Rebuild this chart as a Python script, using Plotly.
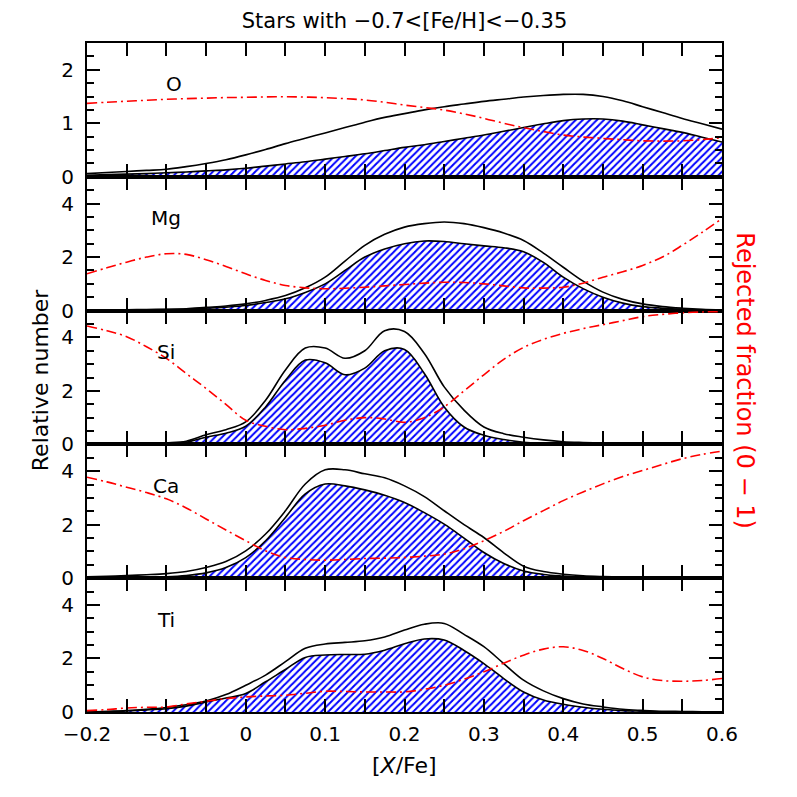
import plotly.graph_objects as go
from plotly.subplots import make_subplots

xfe = [-0.2, -0.175, -0.15, -0.125, -0.1, -0.075, -0.05, -0.025, 0.0, 0.025, 0.05,
       0.075, 0.1, 0.125, 0.15, 0.175, 0.2, 0.225, 0.25, 0.275, 0.3, 0.325, 0.35,
       0.375, 0.4, 0.425, 0.45, 0.475, 0.5, 0.525, 0.55, 0.575, 0.6]

elements = ["O", "Mg", "Si", "Ca", "Ti"]

o_all = [0.06, 0.08, 0.10, 0.12, 0.14, 0.19, 0.25, 0.32, 0.41, 0.51, 0.62, 0.72, 0.82, 0.92,
         1.02, 1.11, 1.18, 1.25, 1.31, 1.36, 1.41, 1.45, 1.49, 1.52, 1.54, 1.54, 1.50, 1.42,
         1.31, 1.20, 1.09, 0.99, 0.89]
o_acc = [0.03, 0.04, 0.05, 0.06, 0.075, 0.09, 0.11, 0.13, 0.16, 0.20, 0.24, 0.28, 0.33, 0.38,
         0.43, 0.49, 0.55, 0.60, 0.66, 0.72, 0.78, 0.85, 0.92, 0.99, 1.05, 1.08, 1.08, 1.04,
         0.97, 0.90, 0.83, 0.74, 0.65]
o_rej = [0.549, 0.557, 0.565, 0.572, 0.579, 0.584, 0.588, 0.592, 0.594, 0.597, 0.598, 0.596,
         0.591, 0.584, 0.574, 0.557, 0.536, 0.518, 0.499, 0.47, 0.437, 0.40, 0.367, 0.338,
         0.312, 0.297, 0.287, 0.277, 0.269, 0.267, 0.269, 0.278, 0.292]

mg_all = [0.02, 0.02, 0.03, 0.04, 0.05, 0.07, 0.12, 0.17, 0.25, 0.38, 0.56, 0.85, 1.25, 1.85,
          2.44, 2.85, 3.12, 3.25, 3.31, 3.25, 3.10, 2.90, 2.62, 2.15, 1.62, 1.10, 0.69, 0.42,
          0.25, 0.15, 0.09, 0.05, 0.03]
mg_acc = [0.01, 0.01, 0.02, 0.03, 0.04, 0.06, 0.09, 0.13, 0.19, 0.30, 0.44, 0.68, 1.00, 1.50,
          2.00, 2.30, 2.50, 2.60, 2.58, 2.50, 2.42, 2.35, 2.20, 1.80, 1.25, 0.82, 0.50, 0.28,
          0.15, 0.09, 0.05, 0.03, 0.02]
mg_rej = [0.275, 0.32, 0.362, 0.40, 0.425, 0.42, 0.38, 0.33, 0.275, 0.225, 0.188, 0.17,
          0.163, 0.167, 0.175, 0.185, 0.195, 0.205, 0.212, 0.21, 0.20, 0.185, 0.17, 0.168,
          0.175, 0.205, 0.25, 0.29, 0.338, 0.40, 0.488, 0.585, 0.688]

si_all = [0.01, 0.01, 0.02, 0.03, 0.06, 0.12, 0.36, 0.55, 0.84, 1.65, 2.78, 3.60, 3.60, 3.22,
          3.50, 4.25, 4.22, 3.40, 2.15, 1.28, 0.65, 0.40, 0.27, 0.17, 0.10, 0.07, 0.05, 0.03,
          0.02, 0.01, 0.01, 0.01, 0.01]
si_acc = [0.0, 0.0, 0.01, 0.02, 0.04, 0.08, 0.27, 0.42, 0.68, 1.40, 2.40, 3.15, 3.05, 2.60,
          2.85, 3.50, 3.55, 2.65, 1.40, 0.65, 0.34, 0.18, 0.08, 0.04, 0.02, 0.01, 0.01, 0.0,
          0.0, 0.0, 0.0, 0.0, 0.0]
si_rej = [0.885, 0.85, 0.805, 0.73, 0.643, 0.53, 0.418, 0.30, 0.18, 0.135, 0.11, 0.12,
          0.143, 0.18, 0.20, 0.19, 0.165, 0.20, 0.28, 0.40, 0.52, 0.635, 0.725, 0.785, 0.83,
          0.865, 0.895, 0.925, 0.955, 0.972, 0.983, 0.99, 0.992]

ca_all = [0.05, 0.07, 0.10, 0.13, 0.17, 0.25, 0.40, 0.62, 1.02, 1.65, 2.52, 3.52, 4.05, 4.05,
          3.90, 3.75, 3.45, 3.05, 2.52, 2.00, 1.52, 0.95, 0.45, 0.25, 0.15, 0.09, 0.06, 0.04,
          0.02, 0.01, 0.01, 0.01, 0.01]
ca_acc = [0.01, 0.01, 0.02, 0.03, 0.05, 0.10, 0.20, 0.40, 0.77, 1.40, 2.27, 3.15, 3.52, 3.45,
          3.30, 3.10, 2.83, 2.45, 2.02, 1.50, 0.96, 0.55, 0.27, 0.14, 0.08, 0.04, 0.02, 0.01,
          0.01, 0.0, 0.0, 0.0, 0.0]
ca_rej = [0.755, 0.72, 0.68, 0.64, 0.593, 0.525, 0.443, 0.36, 0.28, 0.205, 0.155, 0.14,
          0.135, 0.14, 0.147, 0.15, 0.155, 0.165, 0.18, 0.22, 0.28, 0.35, 0.43, 0.505, 0.58,
          0.645, 0.705, 0.76, 0.805, 0.85, 0.893, 0.925, 0.95]

ti_all = [0.0, 0.02, 0.05, 0.10, 0.17, 0.27, 0.41, 0.65, 1.00, 1.38, 1.88, 2.38, 2.54, 2.60,
          2.66, 2.80, 3.06, 3.28, 3.31, 2.90, 2.44, 1.81, 1.19, 0.79, 0.50, 0.30, 0.19, 0.10,
          0.06, 0.03, 0.02, 0.01, 0.01]
ti_acc = [0.0, 0.02, 0.04, 0.08, 0.12, 0.22, 0.375, 0.52, 0.69, 1.13, 1.59, 2.04, 2.13, 2.15,
          2.16, 2.31, 2.55, 2.73, 2.69, 2.30, 1.81, 1.25, 0.75, 0.45, 0.29, 0.18, 0.10, 0.05,
          0.03, 0.01, 0.01, 0.0, 0.0]
ti_rej = [0.01, 0.018, 0.03, 0.035, 0.0375, 0.06, 0.08, 0.10, 0.1125, 0.12, 0.125, 0.14,
          0.155, 0.153, 0.15, 0.15, 0.15, 0.17, 0.20, 0.245, 0.30, 0.365, 0.425, 0.47, 0.4875,
          0.46, 0.40, 0.325, 0.2625, 0.235, 0.23, 0.235, 0.25]

all_stars = [o_all, mg_all, si_all, ca_all, ti_all]
accepted = [o_acc, mg_acc, si_acc, ca_acc, ti_acc]
rejected = [o_rej, mg_rej, si_rej, ca_rej, ti_rej]
ymax = [2.5, 5, 5, 5, 5]

FONT = "DejaVu Sans"

fig = make_subplots(rows=5, cols=1, shared_xaxes=True, vertical_spacing=0,
                    specs=[[{"secondary_y": True}] for _ in range(5)])

for i in range(5):
    r = i + 1
    fig.add_trace(go.Scatter(x=xfe, y=all_stars[i], mode="lines", line_shape="spline",
                             line=dict(color="black", width=1.6), showlegend=False),
                  row=r, col=1)
    fig.add_trace(go.Scatter(x=xfe, y=accepted[i], mode="lines", line_shape="spline",
                             line=dict(color="black", width=1.6), fill="tozeroy",
                             fillcolor="white",
                             fillpattern=dict(shape="/", fgcolor="blue", bgcolor="white",
                                              size=5, solidity=0.4, fillmode="replace"),
                             showlegend=False),
                  row=r, col=1)
    fig.add_trace(go.Scatter(x=xfe, y=rejected[i], mode="lines", line_shape="spline",
                             line=dict(color="red", width=1.6, dash="10px,4px,2px,4px"),
                             showlegend=False),
                  row=r, col=1, secondary_y=True)

    major = 1 if ymax[i] < 3 else 2
    minor = 0.25 if ymax[i] < 3 else 0.5
    fig.update_yaxes(range=[0, ymax[i]], dtick=major, tick0=0, ticks="inside", ticklen=13,
                     tickwidth=1.5, tickcolor="black", showline=True, linewidth=2,
                     linecolor="black", mirror="allticks", showgrid=False, zeroline=False,
                     ticklabelstandoff=7, automargin=False,
                     tickfont=dict(family=FONT, size=20, color="black"),
                     minor=dict(dtick=minor, tick0=0, ticks="inside", ticklen=7,
                                tickwidth=1.5, tickcolor="black", showgrid=False),
                     row=r, col=1, secondary_y=False)
    fig.update_yaxes(range=[0, 1], visible=False, showgrid=False, automargin=False,
                     row=r, col=1, secondary_y=True)
    fig.update_xaxes(range=[-0.2, 0.6], domain=[0, 1], dtick=0.1, tick0=0, ticks="inside",
                     ticklen=13, tickwidth=1.5, tickcolor="black", showline=True,
                     linewidth=2, linecolor="black", mirror="allticks", showgrid=False,
                     zeroline=False, tickformat=".1~f", ticklabelstandoff=3,
                     automargin=False,
                     tickfont=dict(family=FONT, size=20, color="black"),
                     minor=dict(dtick=0.05, tick0=0, ticks="inside", ticklen=7,
                                tickwidth=1.5, tickcolor="black", showgrid=False),
                     row=r, col=1)

    yname = "y" if r == 1 else f"y{2 * r - 1}"
    label_x = -0.09 if r == 1 else -0.1
    fig.add_annotation(text=elements[i], x=label_x, y=0.69, xref="x",
                       yref=f"{yname} domain", showarrow=False, xanchor="center",
                       yanchor="middle", font=dict(family=FONT, size=20, color="black"))

fig.add_annotation(text="Relative number", x=-0.074, y=0.496, xref="paper", yref="paper",
                   textangle=-90, showarrow=False, xanchor="center", yanchor="middle",
                   font=dict(family=FONT, size=22, color="black"))
fig.add_annotation(text="Rejected fraction (0 \u2212 1)", x=1.036, y=0.496, xref="paper",
                   yref="paper", textangle=90, showarrow=False, xanchor="center",
                   yanchor="middle", font=dict(family=FONT, size=24, color="red"))
fig.add_annotation(text="[<i>X</i>/Fe]", x=0.5, y=-0.08, xref="paper", yref="paper",
                   showarrow=False, xanchor="center", yanchor="middle",
                   font=dict(family=FONT, size=22, color="black"))

fig.update_layout(
    width=797, height=797,
    margin=dict(l=79, r=83, t=35, b=93, autoexpand=False),
    paper_bgcolor="white", plot_bgcolor="white",
    title=dict(text="Stars with \u22120.7<[Fe/H]<\u22120.35", x=0.5, xref="paper",
               y=1 - 13 / 797, yanchor="middle",
               font=dict(family=FONT, size=21, color="black")),
)

fig.write_html("out.html")
